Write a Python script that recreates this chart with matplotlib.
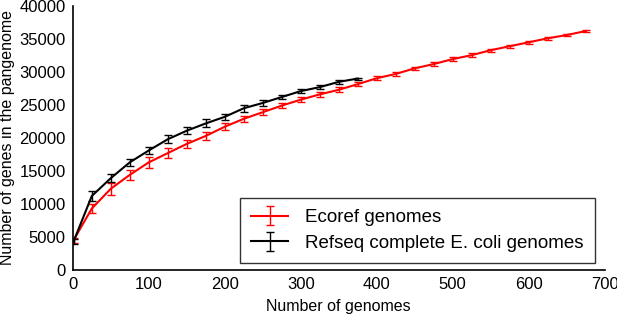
import matplotlib
matplotlib.use("Agg")
import matplotlib.pyplot as plt

plt.rcParams['font.family'] = ['Liberation Sans', 'DejaVu Sans']

ecoref_x = [1, 25, 50, 75, 100, 125, 150, 175, 200, 225, 250, 275, 300, 325, 350, 375,
            400, 425, 450, 475, 500, 525, 550, 575, 600, 625, 650, 675]
ecoref_y = [4500, 9300, 12300, 14400, 16300, 17700, 19100, 20300, 21700, 22900, 23900, 24900,
            25800, 26600, 27300, 28150, 29050, 29700, 30550, 31200, 31950, 32550, 33300, 33900,
            34500, 35100, 35600, 36200]
ecoref_err = [400, 700, 900, 800, 800, 700, 600, 600, 550, 500, 450, 400,
              400, 350, 350, 300, 300, 300, 250, 250, 250, 250, 200, 200,
              200, 200, 200, 200]

refseq_x = [1, 25, 50, 75, 100, 125, 150, 175, 200, 225, 250, 275, 300, 325, 350, 375]
refseq_y = [4300, 11200, 13900, 16300, 18100, 19800, 21100, 22200, 23200, 24500, 25300, 26200,
            27100, 27700, 28500, 29000]
refseq_err = [400, 700, 600, 500, 600, 600, 550, 600, 500, 550, 450, 350, 350, 300, 250, 150]

fig = plt.figure(figsize=(6.17, 3.16), dpi=100)
ax = fig.add_axes([0.118, 0.146, 0.862, 0.835])

ax.errorbar(ecoref_x, ecoref_y, yerr=ecoref_err, color='#ff0000', lw=1.5,
            capsize=3, elinewidth=1, capthick=1, label='Ecoref genomes')
ax.errorbar(refseq_x, refseq_y, yerr=refseq_err, color='black', lw=1.5,
            capsize=3, elinewidth=1, capthick=1, label='Refseq complete E. coli genomes')

ax.set_xlim(0, 700)
ax.set_ylim(0, 40000)
ax.set_xticks(range(0, 701, 100))
ax.set_yticks(range(0, 40001, 5000))
ax.tick_params(length=0, labelsize=12, pad=5)
for s in ['top', 'right']:
    ax.spines[s].set_visible(False)
for s in ['left', 'bottom']:
    ax.spines[s].set_linewidth(1.2)
ax.set_xlabel('Number of genomes', fontsize=11.5, labelpad=5)
ax.set_ylabel('Number of genes in the pangenome', fontsize=11.5, labelpad=3)

leg = ax.legend(loc='lower right', bbox_to_anchor=(0.981, 0.027), borderaxespad=0,
                fontsize=13.5, frameon=True, fancybox=False, edgecolor='black',
                handlelength=2.0, handletextpad=0.9, borderpad=0.58, labelspacing=0.45)
leg.get_frame().set_linewidth(1.0)

fig.savefig('out.png', dpi=100)
